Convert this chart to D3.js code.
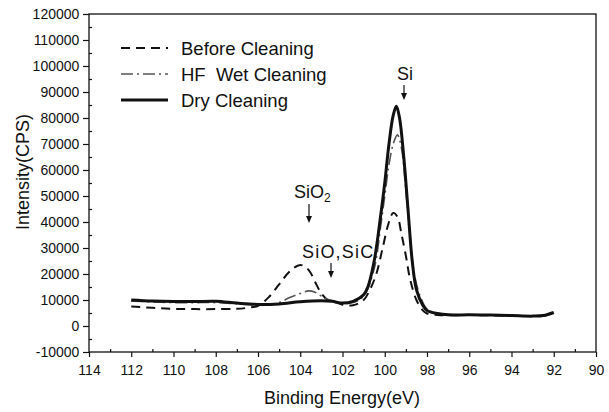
<!DOCTYPE html>
<html>
<head>
<meta charset="utf-8">
<script src="https://cdn.jsdelivr.net/npm/d3@7"></script>
<style>
  body { margin: 0; background: #fff; }
  text { font-family: Arial, "Liberation Sans", sans-serif; fill: #111; white-space: pre; }
</style>
</head>
<body>
<svg id="chart" width="609" height="412"></svg>
<script>
// binding energy (eV) and intensity (CPS)
const beforeE = [112, 111, 110, 109, 108, 107, 106.5, 106, 105.5, 105, 104.5, 104, 103.6, 103.3, 103, 102.7, 102.3, 102, 101.5, 101, 100.7, 100.4, 100.1, 99.8, 99.6, 99.4, 99.2, 99, 98.8, 98.5, 98.2, 98, 97.5, 97, 96, 95, 94, 93, 92.5, 92];
const beforeI = [7500, 7000, 6600, 6500, 6500, 6600, 7000, 7800, 11000, 16000, 21000, 23500, 21500, 17000, 12500, 10000, 9000, 8200, 8000, 10000, 14000, 20000, 30000, 40000, 43500, 42000, 35000, 27000, 18000, 10000, 6000, 4800, 4200, 4100, 4200, 4100, 3900, 3800, 3900, 5000];

const hfE = [112, 111, 110, 109, 108, 107, 106, 105, 104.5, 104, 103.6, 103.3, 103, 102.6, 102, 101.5, 101, 100.5, 100.2, 100, 99.8, 99.6, 99.4, 99.2, 99, 98.8, 98.6, 98.3, 98, 97.5, 97, 96, 95, 94, 93, 92.5, 92];
const hfI = [9500, 9300, 9000, 9000, 9000, 8500, 8200, 9000, 11000, 12500, 13500, 13000, 11500, 10000, 8800, 9000, 11500, 22000, 38000, 50000, 62000, 70000, 73500, 68000, 52000, 35000, 20000, 11000, 6500, 4800, 4300, 4300, 4200, 4000, 3800, 4000, 5000];

const dryE = [112, 111, 110, 109, 108, 107, 106, 105, 104, 103, 102.5, 102, 101.5, 101, 100.8, 100.5, 100.2, 100, 99.8, 99.6, 99.45, 99.3, 99.1, 98.9, 98.7, 98.5, 98.2, 98, 97.5, 97, 96, 95, 94, 93, 92.5, 92];
const dryI = [10000, 9600, 9400, 9400, 9500, 8800, 8300, 8500, 9300, 9700, 9500, 8800, 9500, 12000, 15000, 25000, 42000, 55000, 70000, 81000, 84500, 80000, 65000, 45000, 25000, 14000, 8000, 6000, 4800, 4300, 4300, 4200, 4000, 3800, 4000, 5200];

const xTicks = [114, 112, 110, 108, 106, 104, 102, 100, 98, 96, 94, 92, 90];
const yTicks = [-10000, 0, 10000, 20000, 30000, 40000, 50000, 60000, 70000, 80000, 90000, 100000, 110000, 120000];
const legendLabels = ["Before Cleaning", "HF  Wet Cleaning", "Dry Cleaning"];

const svg = d3.select("#chart");
const plotLeft = 89, plotRight = 596, plotTop = 14, plotBottom = 352;

const x = d3.scaleLinear().domain([114, 90]).range([plotLeft, plotRight]);
const y = d3.scaleLinear().domain([-10000, 120000]).range([plotBottom, plotTop]);

// plain hyphen for negatives, like the original
const fmt = d => String(d);

// frame
svg.append("rect")
    .attr("x", plotLeft)
    .attr("y", plotTop)
    .attr("width", plotRight - plotLeft)
    .attr("height", plotBottom - plotTop)
    .attr("fill", "none")
    .attr("stroke", "#111")
    .attr("stroke-width", 1.3);

// axes
const xAxis = svg.append("g")
    .attr("transform", "translate(0," + plotBottom + ")")
    .call(d3.axisBottom(x).tickValues(xTicks).tickFormat(fmt).tickSize(5).tickSizeOuter(0));
xAxis.select(".domain").remove();
xAxis.selectAll("text").attr("font-size", 14).attr("dy", "1.05em");

svg.append("g")
    .attr("transform", "translate(0," + plotBottom + ")")
    .call(d3.axisTop(x).tickValues(d3.range(113, 90, -2)).tickFormat("").tickSize(3).tickSizeOuter(0))
  .select(".domain").remove();

const yAxis = svg.append("g")
    .attr("transform", "translate(" + plotLeft + ",0)")
    .call(d3.axisLeft(y).tickValues(yTicks).tickFormat(fmt).tickSize(6).tickSizeOuter(0));
yAxis.select(".domain").remove();
yAxis.selectAll("text").attr("font-size", 14).attr("dx", "-0.05em");

svg.append("g")
    .attr("transform", "translate(" + plotLeft + ",0)")
    .call(d3.axisRight(y).tickValues(d3.range(-5000, 120000, 10000)).tickFormat("").tickSize(3).tickSizeOuter(0))
  .select(".domain").remove();

svg.selectAll(".tick line").attr("stroke", "#111").attr("stroke-width", 1.2);

// axis titles
svg.append("text")
    .attr("x", 342)
    .attr("y", 404)
    .attr("text-anchor", "middle")
    .attr("font-size", 18)
    .text("Binding Energy(eV)");

svg.append("text")
    .attr("transform", "translate(29,172) rotate(-90)")
    .attr("text-anchor", "middle")
    .attr("font-size", 18)
    .text("Intensity(CPS)");

// spectra
const line = d3.line()
    .x(d => x(d[0]))
    .y(d => y(d[1]))
    .curve(d3.curveCatmullRom.alpha(0.5));

const series = [
  {e: beforeE, i: beforeI, width: 2, dash: "9,6", color: "#111"},
  {e: hfE, i: hfI, width: 1.6, dash: "12,4,2,4", color: "#555"},
  {e: dryE, i: dryI, width: 3, dash: null, color: "#111"}
];

series.forEach(s => {
  svg.append("path")
      .datum(d3.zip(s.e, s.i))
      .attr("d", line)
      .attr("fill", "none")
      .attr("stroke", s.color)
      .attr("stroke-width", s.width)
      .attr("stroke-dasharray", s.dash);
});

// legend
const legend = svg.append("g");
legendLabels.forEach((label, k) => {
  const ly = 48 + k * 26;
  legend.append("line")
      .attr("x1", 121)
      .attr("x2", 168)
      .attr("y1", ly)
      .attr("y2", ly)
      .attr("stroke", series[k].color)
      .attr("stroke-width", series[k].width)
      .attr("stroke-dasharray", series[k].dash);
  legend.append("text")
      .attr("x", 181)
      .attr("y", ly + 7)
      .attr("font-size", 18.5)
      .text(label);
});

// annotations
function arrow(ax, y1, y2) {
  svg.append("line")
      .attr("x1", ax).attr("x2", ax)
      .attr("y1", y1).attr("y2", y2 - 5)
      .attr("stroke", "#111")
      .attr("stroke-width", 1.2);
  svg.append("path")
      .attr("d", "M" + (ax - 3) + "," + (y2 - 7) + "L" + (ax + 3) + "," + (y2 - 7) + "L" + ax + "," + y2 + "Z")
      .attr("fill", "#111");
}

svg.append("text")
    .attr("x", 405).attr("y", 80)
    .attr("text-anchor", "middle")
    .attr("font-size", 18)
    .text("Si");
arrow(404, 85, 100);

const sio2 = svg.append("text")
    .attr("x", 294).attr("y", 198)
    .attr("font-size", 18)
    .text("SiO");
sio2.append("tspan")
    .attr("font-size", 12)
    .attr("dy", 4)
    .text("2");
arrow(309, 204, 223);

svg.append("text")
    .attr("x", 302).attr("y", 258)
    .attr("font-size", 18)
    .attr("letter-spacing", 1.2)
    .text("SiO,SiC");
arrow(331, 263, 278);
</script>
</body>
</html>
